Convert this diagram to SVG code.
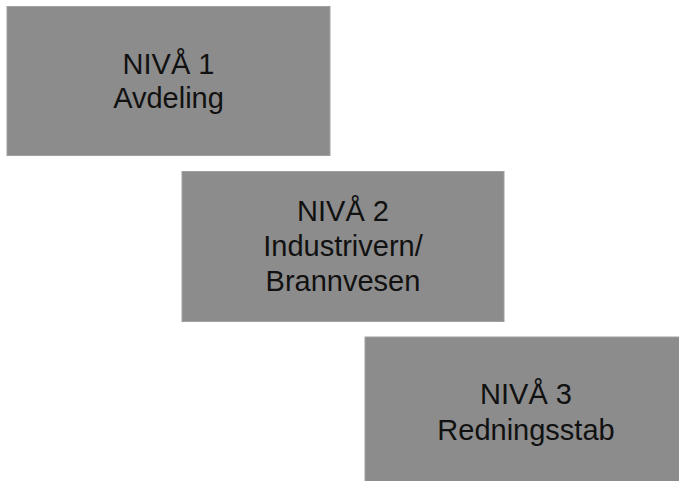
<svg xmlns="http://www.w3.org/2000/svg" width="679" height="481" viewBox="0 0 679 481">
<style>
.box{fill:#8c8c8c;stroke:#a0a0a0;stroke-width:1}
.t{font-family:"Liberation Sans",Arial,sans-serif;font-size:29px;fill:#111;text-anchor:middle}
</style>
<rect width="679" height="481" fill="#fff"/>
<g id="node1">
<rect class="box" x="7" y="6.5" width="323" height="149"/>
<text class="t" x="168.5" y="74">NIVÅ 1</text>
<text class="t" x="168.5" y="108">Avdeling</text>
</g>
<g id="node2">
<rect class="box" x="182" y="171.5" width="322" height="150"/>
<text class="t" x="343" y="221">NIVÅ 2</text>
<text class="t" x="343" y="256">Industrivern/</text>
<text class="t" x="343" y="291">Brannvesen</text>
</g>
<g id="node3">
<rect class="box" x="365" y="337" width="323" height="150"/>
<text class="t" x="526" y="404">NIVÅ 3</text>
<text class="t" x="526" y="440">Redningsstab</text>
</g>
<g id="connectors"></g>
</svg>
